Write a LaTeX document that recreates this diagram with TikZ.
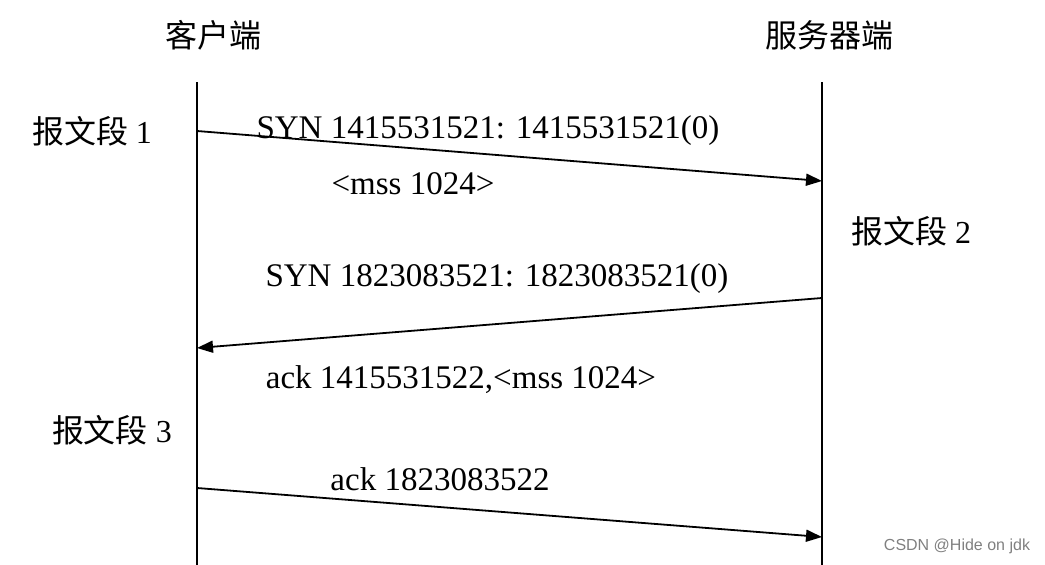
\documentclass[tikz,border=0pt]{standalone}
\usepackage{fontspec}
\setmainfont{Liberation Serif}
\newfontfamily\cjkfont{Noto Sans CJK SC}
\newfontfamily\markfont{Liberation Sans}
\usetikzlibrary{arrows.meta}

\tikzset{
  msg/.style={font=\fontsize{33}{38}\selectfont, inner sep=0pt},
  side/.style={font=\fontsize{32}{38}\selectfont, inner sep=0pt},
  life/.style={line width=2.2pt},
  pkt/.style={line width=1.8pt, -{Triangle[length=16pt,width=12pt]}}
}

\begin{document}
\begin{tikzpicture}[x=1pt, y=-1pt]
  \useasboundingbox (0,0) rectangle (1045,565);

  % the two ends
  \node[side] (client) at (213,35) {\cjkfont 客户端};
  \node[side] (server) at (829,35) {\cjkfont 服务器端};

  % life lines
  \coordinate (ctop) at (197,82);
  \coordinate (cbot) at (197,565);
  \coordinate (stop) at (822,82);
  \coordinate (sbot) at (822,565);
  \draw[life] (ctop) -- (cbot);
  \draw[life] (stop) -- (sbot);

  % segment 1
  \node[side] (seg1) at (92,131) {{\cjkfont 报文段} 1};
  \coordinate (c1) at (197,131);
  \coordinate (s1) at (822,181);
  \draw[pkt] (c1) -- (s1);
  \node[msg] (syn1) at (488,131) {SYN 1415531521: 1415531521(0)};
  \node[msg] (mss1) at (413,184) {<mss 1024>};

  % segment 2
  \node[side] (seg2) at (911,231) {{\cjkfont 报文段} 2};
  \coordinate (s2) at (822,298);
  \coordinate (c2) at (197,348);
  \draw[pkt] (s2) -- (c2);
  \node[msg] (syn2) at (497,279) {SYN 1823083521: 1823083521(0)};
  \node[msg] (ack2) at (461,380) {ack 1415531522,<mss 1024>};

  % segment 3
  \node[side] (seg3) at (112,430) {{\cjkfont 报文段} 3};
  \coordinate (c3) at (197,488);
  \coordinate (s3) at (822,537);
  \draw[pkt] (c3) -- (s3);
  \node[msg] (ack3) at (440,479) {ack 1823083522};

  % watermark
  \node[font=\fontsize{16}{18}\selectfont\markfont, text=gray, inner sep=0pt] (mark) at (957,546) {CSDN @Hide on jdk};
\end{tikzpicture}
\end{document}
